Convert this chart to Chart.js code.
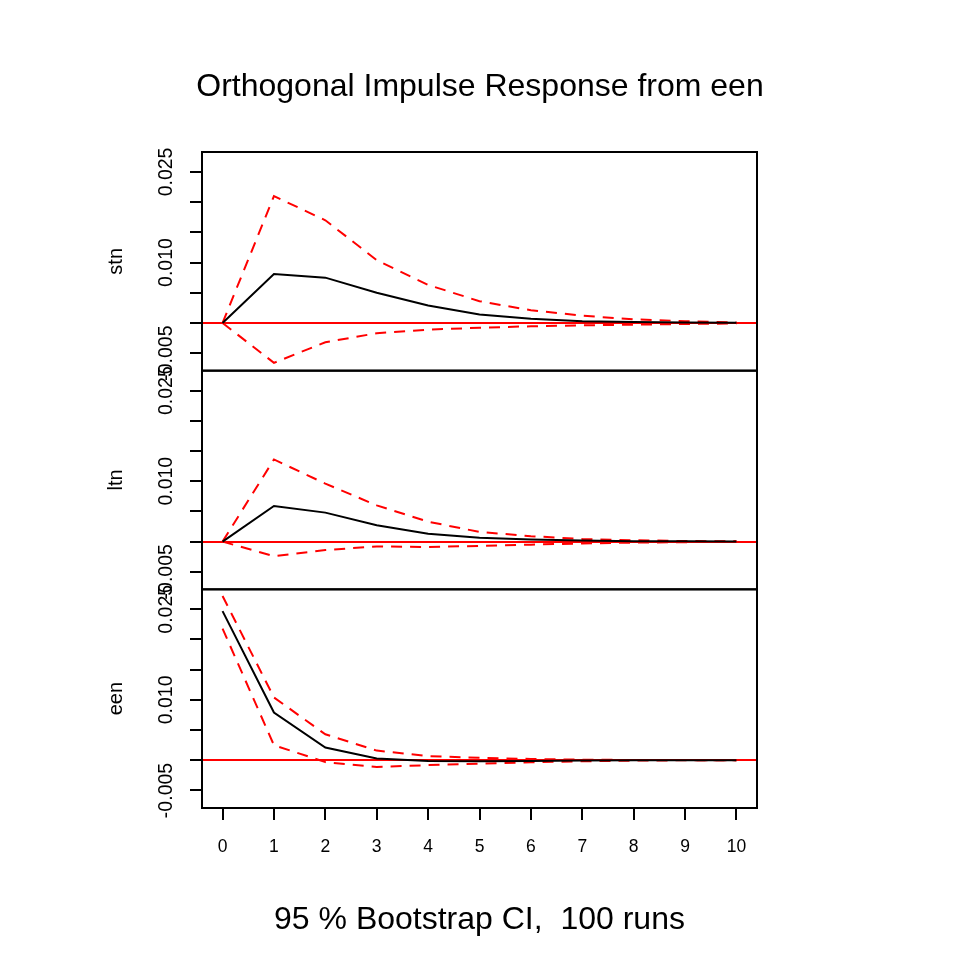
<!DOCTYPE html>
<html>
<head>
<meta charset="utf-8">
<title>Orthogonal Impulse Response from een</title>
<script src="https://cdn.jsdelivr.net/npm/chart.js@4.4.1/dist/chart.umd.min.js"></script>
<style>
  html, body { margin: 0; padding: 0; background: #fff; }
  canvas { display: block; }
</style>
</head>
<body>
<canvas id="irfChart" width="960" height="960"></canvas>
<script>
// forecast horizons
var horizons = [0, 1, 2, 3, 4, 5, 6, 7, 8, 9, 10];

// response of stn to een shock, with bootstrap band
var stnIrf   = [0, 0.0081, 0.0075, 0.0050, 0.0029, 0.0014, 0.0007, 0.0003, 0.00017, 0.00006, 0.00002];
var stnLower = [0, -0.0066, -0.0032, -0.0017, -0.0011, -0.0008, -0.00055, -0.0004, -0.00028, -0.00017, -0.0001];
var stnUpper = [0, 0.0210, 0.0170, 0.0104, 0.0063, 0.0036, 0.0021, 0.0012, 0.0006, 0.0003, 0.0001];

// response of ltn
var ltnIrf   = [0, 0.0059, 0.0048, 0.0027, 0.0013, 0.00066, 0.00033, 0.00017, 0.00008, 0.00005, 0];
var ltnLower = [0, -0.0024, -0.0014, -0.0008, -0.0009, -0.0007, -0.0005, -0.0003, -0.00017, -0.0001, 0];
var ltnUpper = [0, 0.0136, 0.0096, 0.0060, 0.0033, 0.0016, 0.0009, 0.00044, 0.00022, 0.0001, 0.00005];

// response of een
var eenIrf   = [0.0247, 0.0079, 0.0021, 0.0003, -0.0001, -0.00017, -0.0001, -0.00005, 0, 0, 0];
var eenLower = [0.0218, 0.0025, -0.0003, -0.0011, -0.0008, -0.00055, -0.00033, -0.00017, -0.00005, 0, 0];
var eenUpper = [0.0272, 0.0104, 0.0043, 0.0016, 0.0007, 0.0004, 0.00022, 0.0001, 0.00005, 0.00003, 0];

var panelNames = ['stn', 'ltn', 'een'];
var yTickValues = [-0.005, 0.010, 0.025];
var yTickLabels = ['-0.005', '0.010', '0.025'];
var xTickLabels = ['0', '1', '2', '3', '4', '5', '6', '7', '8', '9', '10'];

var yMin = -0.0079, yMax = 0.0283;
var xMin = -0.4, xMax = 10.4;

Chart.defaults.font.family = '"Liberation Sans", Arial, Helvetica, sans-serif';
Chart.defaults.color = '#000';

function toPoints(values) {
    return horizons.map(function (h, i) { return {x: h, y: values[i]}; });
}

function lineSet(values, axis, color, dashed) {
    return {
        data: toPoints(values),
        yAxisID: axis,
        borderColor: color,
        borderWidth: 2,
        borderDash: dashed ? [11, 8] : [],
        pointRadius: 0,
        pointHoverRadius: 0,
        fill: false,
        tension: 0
    };
}

var series = [
    [stnIrf, stnLower, stnUpper],
    [ltnIrf, ltnLower, ltnUpper],
    [eenIrf, eenLower, eenUpper]
];

var datasets = [];
series.forEach(function (s, i) {
    var axis = 'y' + panelNames[i];
    datasets.push(lineSet(s[0], axis, '#000000', false));
    datasets.push(lineSet(s[1], axis, '#ff0000', true));
    datasets.push(lineSet(s[2], axis, '#ff0000', true));
});

function yScale(i) {
    return {
        type: 'linear',
        position: 'left',
        stack: 'irf',
        stackWeight: 1,
        weight: 3 - i,
        min: yMin,
        max: yMax,
        afterFit: function (s) { s.width = 202; },
        border: {display: true, color: '#000', width: 2},
        grid: {
            drawOnChartArea: true,
            drawTicks: true,
            tickLength: 12,
            tickColor: '#000',
            tickWidth: 2,
            lineWidth: 2,
            // red zero line across the panel
            color: function (c) {
                return c.tick && Math.abs(c.tick.value) < 1e-9 ? '#ff0000' : 'rgba(0,0,0,0)';
            }
        },
        ticks: {
            stepSize: 0.005,
            includeBounds: false,
            autoSkip: false,
            minRotation: 90,
            maxRotation: 90,
            crossAlign: 'center',
            padding: -4,
            color: '#000',
            font: {size: 19.5},
            callback: function (v) {
                var k = yTickValues.findIndex(function (t) { return Math.abs(t - v) < 1e-9; });
                return k >= 0 ? yTickLabels[k] : '';
            }
        },
        title: {
            display: true,
            text: panelNames[i],
            color: '#000',
            font: {size: 20},
            padding: {top: 104, bottom: 0}
        }
    };
}

// frame around each panel
var panelBoxes = {
    id: 'panelBoxes',
    afterDatasetsDraw: function (chart) {
        var ctx = chart.ctx, area = chart.chartArea;
        ctx.save();
        ctx.strokeStyle = '#000';
        ctx.lineWidth = 2;
        panelNames.forEach(function (n) {
            var s = chart.scales['y' + n];
            ctx.strokeRect(area.left, s.top, area.right - area.left, s.bottom - s.top);
        });
        ctx.restore();
    }
};

var scales = {
    x: {
        type: 'linear',
        position: 'bottom',
        min: xMin,
        max: xMax,
        afterFit: function (s) { s.height = 152; },
        border: {color: '#000', width: 2},
        grid: {drawOnChartArea: false, drawTicks: true, tickLength: 12, color: '#000', lineWidth: 2},
        ticks: {
            stepSize: 1,
            includeBounds: false,
            autoSkip: false,
            maxRotation: 0,
            padding: 17,
            color: '#000',
            font: {size: 17.5},
            callback: function (v) { return xTickLabels[Math.round(v)]; }
        },
        title: {
            display: true,
            text: '95 % Bootstrap CI,  100 runs',
            color: '#000',
            font: {size: 32},
            padding: {top: 0, bottom: 20.8}
        }
    },
    // empty right margin, keeps the title centred on the page
    rightMargin: {
        type: 'linear',
        position: 'right',
        min: 0,
        max: 1,
        afterFit: function (s) { s.width = 203; },
        border: {display: false},
        grid: {display: false},
        ticks: {display: false}
    }
};
panelNames.forEach(function (n, i) { scales['y' + n] = yScale(i); });

var irfChart = new Chart(document.getElementById('irfChart'), {
    type: 'line',
    data: {datasets: datasets},
    options: {
        responsive: false,
        animation: false,
        events: [],
        layout: {padding: 0},
        plugins: {
            legend: {display: false},
            tooltip: {enabled: false},
            title: {
                display: true,
                fullSize: true,
                text: 'Orthogonal Impulse Response from een',
                color: '#000',
                font: {size: 32, weight: 'normal'},
                padding: {top: 68.4, bottom: 45.2}
            }
        },
        scales: scales
    },
    plugins: [panelBoxes]
});
</script>
</body>
</html>
